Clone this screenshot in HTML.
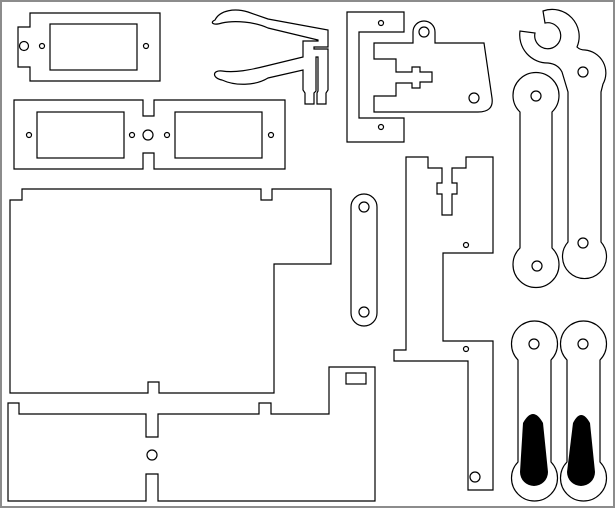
<!DOCTYPE html>
<html><head><style>
html,body{margin:0;padding:0;background:#fff;}
svg{display:block;}
</style></head><body>
<svg width="616" height="509" viewBox="0 0 616 509" xmlns="http://www.w3.org/2000/svg">
<rect x="1" y="1" width="613" height="506" fill="#fff" stroke="#8c8c8c" stroke-width="2"/>
<g fill="none" stroke="#000" stroke-width="1.2">
<path d="M30,13H160V81H30V67H18V27H30Z"/>
<rect x="50" y="24" width="87" height="46"/>
<circle cx="24" cy="46" r="4.5"/><circle cx="42" cy="46" r="2.5"/><circle cx="146" cy="46" r="2.5"/>
<path d="M14,100H143V116H154V100H285V169H154V153H143V169H14Z"/>
<rect x="37" y="112" width="87" height="46"/>
<rect x="175" y="112" width="87" height="46"/>
<circle cx="29" cy="135" r="2.5"/><circle cx="132" cy="135" r="2.5"/><circle cx="167" cy="135" r="2.5"/><circle cx="271" cy="135" r="2.5"/>
<circle cx="148" cy="135" r="5"/>
<path d="M215,20 C220,10 235,8 248,12 L268,19 L328,30 L328,47 L314,47 L314,49 L328,49 L328,90 L326,93 L326,104 L317,104 L317,93 L318,91 L318,57 L316,57 L316,91 L314,93 L314,104 L305,104 L305,93 L303,90 L303,70 L268,78 C255,86 235,86 222,80 C212,78 212,70 222,71 C235,73 250,70 266,66 L303,57 L303,41 L318,41 L318,40 L268,28 C255,22 235,20 222,23 C212,26 210,22 215,20 Z"/>
<path d="M347,12H404V32H359V118H404V142H347Z"/>
<circle cx="381" cy="23" r="2.5"/><circle cx="381" cy="127" r="2.5"/>
<path d="M374,43H413V32A11,11 0 0 1 435,32V43H484L492,98Q494,112 478,112H374V96H396V83H412V88H420V82H432V72H420V67H412V72H396V59H374Z"/>
<circle cx="424" cy="32" r="5"/><circle cx="474" cy="98" r="5"/>
<path d="M543,11 A27,27 0 0 1 577,47 Q580,50 585,50 A23,23 0 0 1 603,84 L601,92 V242 A22,22 0 1 1 568,242 V92 L562,72 Q558,64 548,63 A28,28 0 0 1 520,31 L535,33 A13,13 0 1 0 545,23 Z"/>
<circle cx="583" cy="72" r="5"/><circle cx="583" cy="243" r="5"/>
<path d="M520,112 A23,23 0 1 1 552,112 V248 A23,23 0 1 1 520,248 Z"/>
<circle cx="536" cy="96" r="5"/><circle cx="537" cy="266" r="5"/>
<rect x="351" y="194" width="26" height="132" rx="13"/>
<circle cx="364" cy="207" r="5"/><circle cx="364" cy="312" r="5"/>
<path d="M406,157H428V168H442V183H437V194H442V215H452V194H457V183H452V168H466V157H493V253H443V341H493V490H468V361H394V350H406Z"/>
<circle cx="466" cy="245" r="2.5"/><circle cx="466" cy="349" r="2.5"/><circle cx="475" cy="477" r="5"/>
<path d="M518,360 A23,23 0 1 1 551,360 V462 A23,23 0 1 1 518,462 Z"/>
<path d="M567,360 A23,23 0 1 1 600,360 V462 A23,23 0 1 1 567,462 Z"/>
<circle cx="534" cy="344" r="5"/><circle cx="583" cy="344" r="5"/>
<path d="M10,200H22V189H261V200H272V189H331V264H274V393H159V382H148V393H10Z"/>
<path d="M8,403H19V414H146V437H158V414H259V403H271V414H329V367H375V501H158V474H146V501H8Z"/>
<circle cx="152" cy="455" r="5"/>
<rect x="346" y="373" width="20" height="11"/>
</g>
<path d="M523,423 Q533,405 543,423 L548,472 A14,14 0 1 1 520,472 Z" fill="#000"/>
<path d="M573,423 Q581,407 590,423 L595,472 A14,14 0 1 1 567,472 Z" fill="#000"/>
</svg>
</body></html>
